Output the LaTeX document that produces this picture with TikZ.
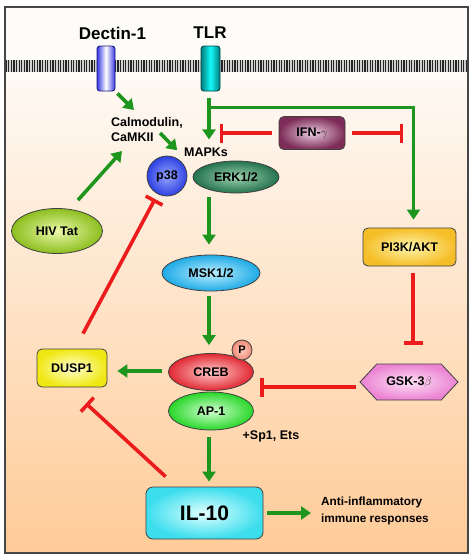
\documentclass[tikz,border=0pt]{standalone}
\usepackage{fontspec}
\setmainfont{Liberation Sans}
\usetikzlibrary{arrows.meta,shapes.geometric,shapes.symbols,calc}
\definecolor{grn}{RGB}{30,150,30}
\definecolor{rd}{RGB}{236,28,28}
\definecolor{peach}{RGB}{255,203,152}
\definecolor{cream}{RGB}{254,250,245}
\definecolor{frm}{RGB}{70,70,70}
\begin{document}
\begin{tikzpicture}[x=1pt,y=-1pt,
  act/.style={draw=grn,line width=3.6pt,-{Triangle[width=13pt,length=10pt]}},
  inh/.style={draw=rd,line width=3.6pt,-{Bar[width=19pt]}},
  lbl/.style={font=\bfseries\fontsize{12.5}{15}\selectfont,text=black},
  box/.style={lbl,draw=black!75,line width=0.8pt,inner sep=0pt},
  rbox/.style={box,rectangle,rounded corners=5pt},
  ell/.style={box,ellipse},
  rec/.style={draw=black!80,line width=0.9pt,rounded corners=3pt,minimum width=18pt,minimum height=45pt,inner sep=0pt}
]
\useasboundingbox (0,0) rectangle (474,558);
\fill[white] (0,0) rectangle (474,558);
% background
\fill[cream!60!white] (5,7) rectangle (468,60);
\shade[top color=cream,bottom color=peach] (5,72) rectangle (468,553);
% membrane
\fill[black!18] (5,60) rectangle (468,72);
\foreach \x in {6.2,8.8,...,467.5} \draw[black!85,line width=1.3pt] (\x,60) -- (\x,72);
\draw[frm,line width=1.6pt] (5,7) rectangle (468,553);

% receptors
\node[rec,left color={rgb,255:red,55;green,55;blue,225},right color={rgb,255:red,55;green,55;blue,225},middle color=white,draw={rgb,255:red,25;green,25;blue,130}] (dec) at (106,68.5) {};
\node[rec,minimum width=19pt,left color={rgb,255:red,0;green,125;blue,125},right color={rgb,255:red,0;green,125;blue,125},middle color={rgb,255:red,20;green,250;blue,250},draw={rgb,255:red,0;green,70;blue,70}] (tlr) at (210.5,68.5) {};
\node[font=\bfseries\fontsize{17}{20}\selectfont] (declbl) at (112.5,33) {Dectin-1};
\node[font=\bfseries\fontsize{17}{20}\selectfont] (tlrlbl) at (210,33) {TLR};

% text labels
\node[lbl,anchor=north west,align=left,inner sep=0pt] (cam) at (111,117) {Calmodulin,\\CaMKII};
\node[lbl,inner sep=0pt] (mapks) at (206,152) {MAPKs};
\node[lbl,inner sep=0pt] (sp1) at (271,436) {+Sp1, Ets};
\node[lbl,font=\bfseries\fontsize{11.8}{17}\selectfont,anchor=west,align=left,inner sep=0pt] (anti) at (321,511) {Anti-inflammatory\\immune responses};

% nodes
\node[ell,circle,minimum size=40pt,inner color={rgb,255:red,150;green,165;blue,255},outer color={rgb,255:red,45;green,65;blue,225}] (p38) at (167,176) {p38};
\node[ell,minimum width=86pt,minimum height=32pt,inner color={rgb,255:red,160;green,210;blue,175},outer color={rgb,255:red,35;green,115;blue,78}] (erk) at (236,177) {ERK1/2};
\node[rbox,minimum width=66pt,minimum height=33pt,inner color={rgb,255:red,235;green,205;blue,225},outer color={rgb,255:red,125;green,45;blue,88}] (ifn) at (312,133) {IFN-\textcolor{black!80}{$\gamma$}};
\node[ell,minimum width=91pt,minimum height=45pt,inner color={rgb,255:red,235;green,248;blue,170},outer color={rgb,255:red,140;green,190;blue,30}] (hiv) at (57,231) {HIV Tat};
\node[ell,minimum width=98pt,minimum height=36pt,inner color={rgb,255:red,190;green,240;blue,255},outer color={rgb,255:red,30;green,170;blue,230}] (msk) at (211,273) {MSK1/2};
\node[rbox,minimum width=93pt,minimum height=38pt,inner color={rgb,255:red,255;green,245;blue,170},outer color={rgb,255:red,245;green,190;blue,40}] (pi3k) at (409.5,247) {PI3K/AKT};
\node[box,signal,signal to=east and west,signal pointer angle=94,minimum width=98pt,minimum height=36pt,inner color={rgb,255:red,255;green,225;blue,245},outer color={rgb,255:red,235;green,130;blue,210}] (gsk) at (409,382) {GSK-3\textcolor{black!70}{$\beta$}};
\node[ell,minimum width=85pt,minimum height=38pt,inner color={rgb,255:red,210;green,255;blue,210},outer color={rgb,255:red,40;green,215;blue,40}] (ap1) at (211,411) {AP-1};
\node[ell,minimum width=85pt,minimum height=37pt,inner color={rgb,255:red,255;green,205;blue,205},outer color={rgb,255:red,225;green,40;blue,50}] (creb) at (211,372) {CREB};
\node[ell,circle,minimum size=20pt,font=\bfseries\fontsize{11}{12}\selectfont,inner color={rgb,255:red,255;green,205;blue,190},outer color={rgb,255:red,240;green,140;blue,120}] (p) at (242,350) {P};
\node[rbox,minimum width=70pt,minimum height=38pt,inner color={rgb,255:red,255;green,255;blue,210},outer color={rgb,255:red,240;green,232;blue,20}] (dusp) at (72,368) {DUSP1};
\node[rbox,rounded corners=7pt,minimum width=117pt,minimum height=52pt,font=\bfseries\fontsize{21}{24}\selectfont,inner color={rgb,255:red,225;green,255;blue,255},outer color={rgb,255:red,60;green,222;blue,238}] (il10) at (204.5,513) {IL-10};

% activation connectors
\draw[act] ($(dec.south east)+(2,2)$) -- ($(cam.north west)+(23,-7)$);
\draw[act] ($(cam.north west)+(49,16)$) -- ($(p38.60)+(0,-8)$);
\draw[act] ($(hiv.north)+(21,-8)$) -- ($(cam.north west)+(11,34)$);
\draw[act] ($(tlr.south)+(-1.5,7)$) -- ($(mapks.north)+(3,-8)$);
\draw[act] ($(tlr.south)+(-1.5,16)$) -| ($(pi3k.north)+(4,-8)$);
\draw[act] ($(erk.south)+(-27,4)$) -- ($(msk.north)+(-2,-10)$);
\draw[act] ($(msk.south)+(-2,5)$) -- ($(creb.north)+(-2,-8)$);
\draw[act] ($(creb.west)+(-6,-1)$) -- ($(dusp.east)+(10,3)$);
\draw[act] ($(ap1.south)+(-2,7)$) -- ($(il10.north)+(4.5,-5)$);
\draw[act] ($(il10.east)+(4,0)$) -- ($(anti.west)+(-10,2)$);

% inhibition connectors
\draw[inh] ($(ifn.west)+(-7,0)$) -- ($(ifn.west)+(-59,0)$);
\draw[inh] ($(ifn.east)+(7,0)$) -- ($(ifn.east)+(58,0)$);
\draw[inh] ($(pi3k.south)+(3.5,7)$) -- ($(gsk.north)+(4,-19)$);
\draw[inh] ($(gsk.west)+(-3,5)$) -- ($(creb.east)+(6.5,15)$);
\draw[inh] ($(il10.north west)+(20,-10)$) -- ($(dusp.south)+(14,16)$);
\draw[inh] ($(dusp.north)+(11,-15)$) -- ($(p38.center)+(-12,23)$);
\end{tikzpicture}
\end{document}
